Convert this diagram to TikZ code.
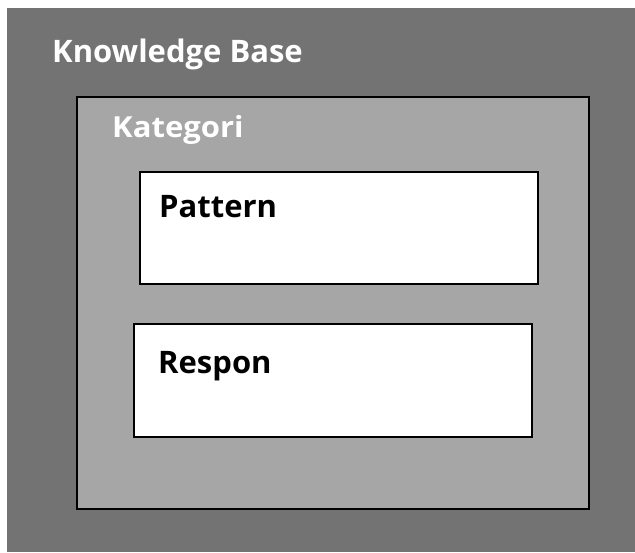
\documentclass[tikz,border=0pt]{standalone}
\usepackage{fontspec}
\setmainfont{Open Sans}
\begin{document}
\begin{tikzpicture}[x=1pt,y=-1pt,
  box/.style={draw=black, line width=2.4pt, anchor=north west, inner sep=0pt},
  lbl/.style={anchor=base west, inner sep=0pt, font=\bfseries}]
\useasboundingbox (0,0) rectangle (635,552);
\fill[white] (0,0) rectangle (635,552);
\node[anchor=north west, inner sep=0pt, fill={rgb,255:red,115;green,115;blue,115}, minimum width=628pt, minimum height=544pt] (kb) at (7,8) {};
\node[box, fill={rgb,255:red,166;green,166;blue,166}, minimum width=512pt, minimum height=412pt] (kat) at (76,96) {};
\node[box, fill=white, minimum width=398pt, minimum height=112pt] (pat) at (139,171) {};
\node[box, fill=white, minimum width=398pt, minimum height=113pt] (res) at (133,323) {};
\node[lbl, text=white, font=\bfseries\fontsize{31}{36}\selectfont] (kbt) at (52,62) {Knowledge Base};
\node[lbl, text=white, font=\bfseries\fontsize{29}{34}\selectfont, xscale=1.07] (katt) at (112,137) {Kategori};
\node[lbl, text=black, font=\bfseries\fontsize{31}{36}\selectfont] (patt) at (159,217) {Pattern};
\node[lbl, text=black, font=\bfseries\fontsize{31}{36}\selectfont] (rest) at (158,373) {Respon};
\end{tikzpicture}
\end{document}
